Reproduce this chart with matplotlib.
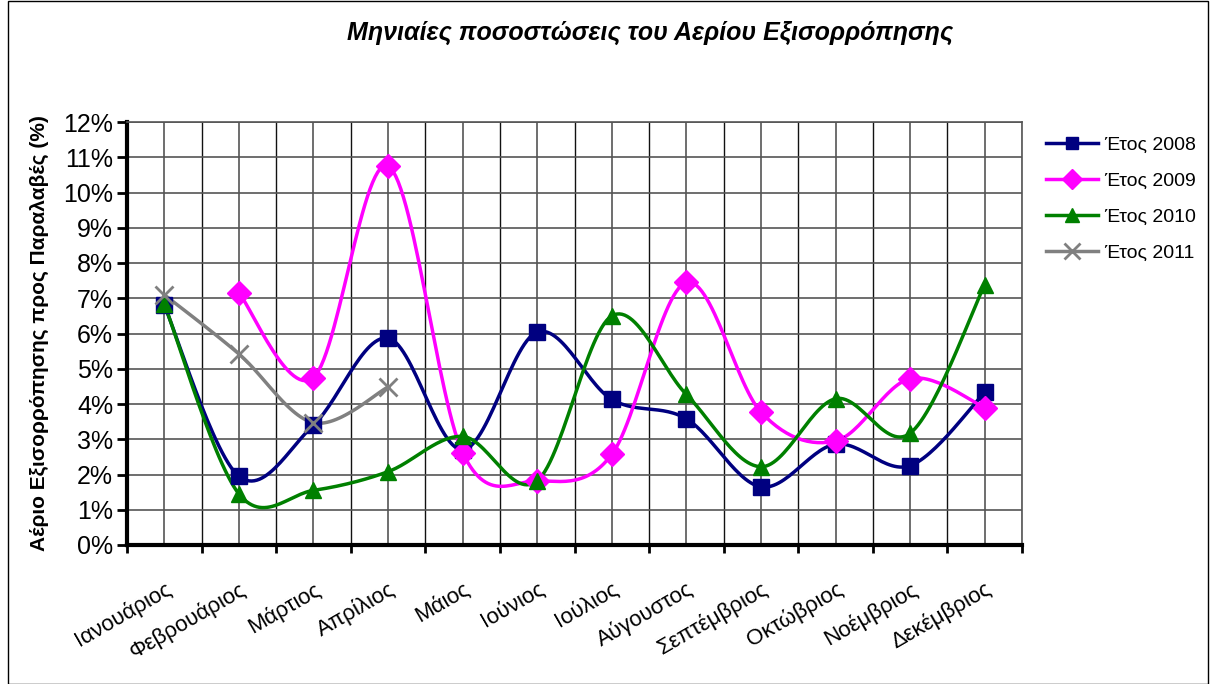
import numpy as np
import matplotlib.pyplot as plt
from matplotlib.patches import Rectangle

plt.rcParams['font.family'] = ['Liberation Sans', 'DejaVu Sans']

months = ['Ιανουάριος', 'Φεβρουάριος', 'Μάρτιος', 'Απρίλιος', 'Μάιος', 'Ιούνιος',
          'Ιούλιος', 'Αύγουστος', 'Σεπτέμβριος', 'Οκτώβριος', 'Νοέμβριος', 'Δεκέμβριος']

y2008 = [6.8, 1.95, 3.4, 5.87, 2.7, 6.04, 4.13, 3.58, 1.65, 2.86, 2.25, 4.33]
y2009 = [None, 7.15, 4.75, 10.75, 2.62, 1.82, 2.57, 7.45, 3.77, 2.95, 4.72, 3.9]
y2010 = [6.84, 1.45, 1.55, 2.08, 3.08, 1.82, 6.5, 4.27, 2.22, 4.15, 3.17, 7.38]
y2011 = [7.1, 5.42, 3.47, 4.48]

series = [
    ('Έτος 2008', y2008, '#000080', 's'),
    ('Έτος 2009', y2009, '#FF00FF', 'D'),
    ('Έτος 2010', y2010, '#008000', '^'),
    ('Έτος 2011', y2011, '#808080', 'x'),
]


def smooth(xs, ys, n=30):
    # Excel-like smoothed line: cubic Bezier with Catmull-Rom control points
    pts = np.column_stack([xs, ys]).astype(float)
    out = [pts[0]]
    for i in range(len(pts) - 1):
        p0 = pts[i - 1] if i > 0 else pts[i]
        p1 = pts[i]
        p2 = pts[i + 1]
        p3 = pts[i + 2] if i + 2 < len(pts) else pts[i + 1]
        c1 = p1 + (p2 - p0) / 6
        c2 = p2 - (p3 - p1) / 6
        t = np.linspace(0, 1, n)[1:, None]
        seg = ((1 - t) ** 3) * p1 + 3 * ((1 - t) ** 2) * t * c1 + 3 * (1 - t) * t ** 2 * c2 + t ** 3 * p2
        out.extend(seg)
    out = np.array(out)
    return out[:, 0], out[:, 1]


fig = plt.figure(figsize=(12.1, 6.84), dpi=100)
ax = fig.add_axes([127 / 1210, 1 - 545 / 684, (1022 - 127) / 1210, (545 - 122) / 684])

for label, vals, color, marker in series:
    xs = [i for i, v in enumerate(vals) if v is not None]
    ys = [v for v in vals if v is not None]
    sx, sy = smooth(xs, ys)
    ax.plot(sx, sy, color=color, lw=2.5, zorder=3)
    ms = 13 if marker == 'x' else (11 if marker == 's' else 12)
    ax.plot(xs, ys, ls='none', marker=marker, color=color, ms=ms,
            mew=2 if marker == 'x' else 1, zorder=4)
    ax.plot([], [], color=color, lw=2.5, marker=marker, ms=ms - 2,
            mew=2 if marker == 'x' else 1, label=label)

ax.set_xlim(-0.5, 11.5)
ax.set_ylim(0, 12)
ax.set_xticks(np.arange(12))
ax.set_xticklabels(months, rotation=30, ha='right', rotation_mode='anchor', fontsize=16)
ax.set_xticks(np.arange(13) - 0.5, minor=True)
ax.tick_params(axis='x', which='major', length=0, pad=24)
ax.tick_params(axis='x', which='minor', length=6, width=2, direction='out')
ax.set_yticks(np.arange(13))
ax.set_yticklabels([f'{v}%' for v in range(13)], fontsize=18)
ax.tick_params(axis='y', length=7, width=2, direction='out', pad=3)

ax.grid(True, which='major', axis='both', color='#555555', lw=1.2)
ax.grid(True, which='minor', axis='x', color='#111111', lw=1)
ax.set_axisbelow(True)

for s in ['left', 'bottom']:
    ax.spines[s].set_linewidth(3)
    ax.spines[s].set_color('black')
for s in ['top', 'right']:
    ax.spines[s].set_linewidth(1.2)
    ax.spines[s].set_color('#555555')

ax.set_ylabel('Αέριο Εξισορρόπησης προς Παραλαβές (%)', fontsize=15, fontweight='bold', labelpad=10)
fig.text(0.537, 1 - 33 / 684, 'Μηνιαίες ποσοστώσεις του Αερίου Εξισορρόπησης',
         ha='center', va='center', fontsize=18, fontweight='bold', fontstyle='italic')

leg = ax.legend(loc='upper left', bbox_to_anchor=(1.018, 0.985), frameon=False, fontsize=14,
                handlelength=2.7, labelspacing=0.95, handletextpad=0.3, borderaxespad=0)

fig.patches.append(Rectangle((8 / 1210, 0), 1200 / 1210, 1 - 1 / 684, transform=fig.transFigure,
                             fill=False, edgecolor='black', lw=1))

fig.savefig('out.png', dpi=100)
